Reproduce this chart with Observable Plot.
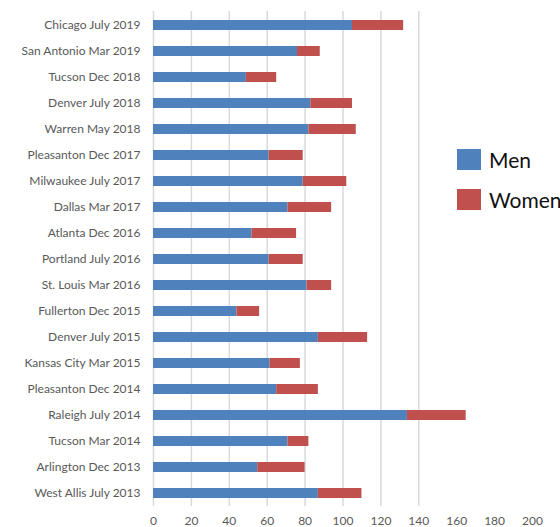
<!DOCTYPE html>
<html>
<head>
<meta charset="utf-8">
<script src="https://cdn.jsdelivr.net/npm/d3@7"></script>
<script src="https://cdn.jsdelivr.net/npm/@observablehq/plot@0.6"></script>
<style>
  body { margin: 0; background: #fff; }
  #wrap { position: relative; width: 560px; height: 527px; overflow: hidden; }
  .legend { position: absolute; left: 457px; top: 149px; font-family: Lato, "Liberation Sans", sans-serif; font-size: 21px; color: #111; }
  .item { display: flex; align-items: center; height: 21px; margin-bottom: 19px; white-space: nowrap; }
  .sw { width: 24px; height: 21px; margin-right: 8px; flex: none; }
</style>
</head>
<body>
<div id="wrap"></div>
<script>
const cities = [
  "Chicago July 2019", "San Antonio Mar 2019", "Tucson Dec 2018", "Denver July 2018",
  "Warren May 2018", "Pleasanton Dec 2017", "Milwaukee July 2017", "Dallas Mar 2017",
  "Atlanta Dec 2016", "Portland July 2016", "St. Louis Mar 2016", "Fullerton Dec 2015",
  "Denver July 2015", "Kansas City Mar 2015", "Pleasanton Dec 2014", "Raleigh July 2014",
  "Tucson Mar 2014", "Arlington Dec 2013", "West Allis July 2013"
];
const men   = [105, 76, 49, 83, 82, 61, 79, 71, 52, 61, 81, 44, 87, 61.5, 65, 134, 71, 55, 87];
const women = [27, 12, 16, 22, 25, 18, 23, 23, 23.5, 18, 13, 12, 26, 16, 22, 31, 11, 25, 23];
const seriesNames = ["Men", "Women"];
const seriesColors = ["#4F81BD", "#C0504D"];
const xTicks = [0, 20, 40, 60, 80, 100, 120, 140, 160, 180, 200];
const gridFull = [0, 20, 40, 60, 80, 100, 120, 140];
const gridPartial = [
  {x: 160, from: "Pleasanton Dec 2014"},
  {x: 180, from: "Tucson Mar 2014"},
  {x: 200, from: "West Allis July 2013"}
];

const rows = [];
cities.forEach((c, i) => {
  rows.push({city: c, sex: "Men", value: men[i]});
  rows.push({city: c, sex: "Women", value: women[i]});
});

const chart = Plot.plot({
  width: 560,
  height: 527,
  marginTop: 11,
  marginBottom: 21,
  marginLeft: 153,
  marginRight: 28,
  style: {fontFamily: "Lato, 'Liberation Sans', sans-serif", fontSize: "12px", color: "#595959", background: "#fff"},
  x: {domain: [0, 200], ticks: xTicks, tickSize: 0, tickPadding: 10, label: null},
  y: {domain: cities, paddingInner: 0.62, paddingOuter: 0.25, tickSize: 0, tickPadding: 13, label: null},
  color: {domain: seriesNames, range: seriesColors},
  marks: [
    Plot.ruleX(gridFull, {stroke: "#d9d9d9", strokeWidth: 1.5}),
    Plot.ruleX(gridPartial, {x: "x", y1: "from", stroke: "#d9d9d9", strokeWidth: 1.5, insetTop: 1}),
    Plot.barX(rows, Plot.stackX({x: "value", y: "city", fill: "sex", order: null}))
  ]
});
document.getElementById("wrap").appendChild(chart);

const legend = document.createElement("div");
legend.className = "legend";
seriesNames.forEach((n, i) => {
  const item = document.createElement("div");
  item.className = "item";
  const sw = document.createElement("span");
  sw.className = "sw";
  sw.style.background = seriesColors[i];
  const t = document.createElement("span");
  t.textContent = n;
  item.appendChild(sw);
  item.appendChild(t);
  legend.appendChild(item);
});
document.getElementById("wrap").appendChild(legend);
</script>
</body>
</html>
